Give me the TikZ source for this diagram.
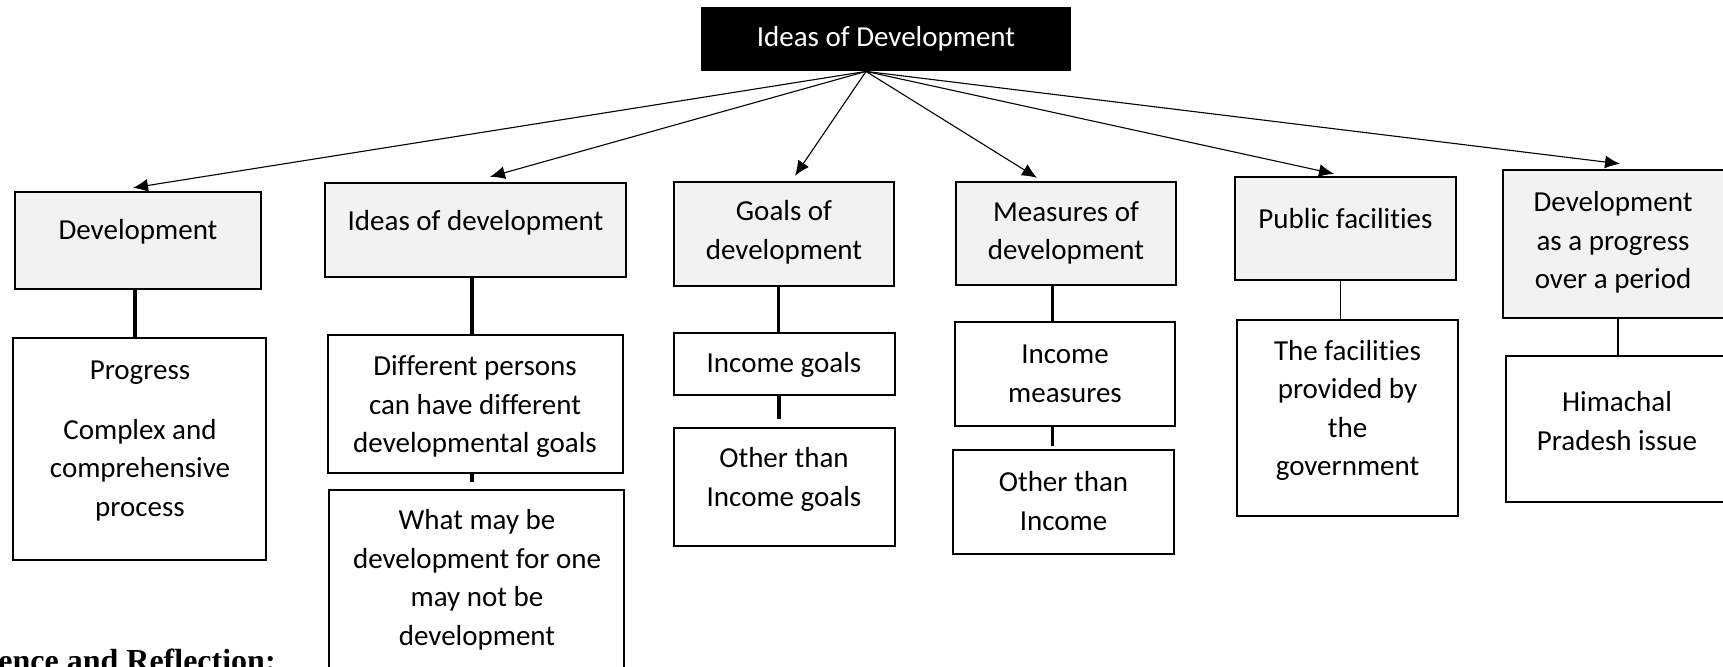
\documentclass[tikz,border=0pt]{standalone}
\usepackage{fontspec}
\setmainfont{Carlito}[Ligatures=NoCommon]
\newfontfamily\reflfont{Liberation Serif}
\usetikzlibrary{arrows.meta}
\definecolor{topicgray}{HTML}{F2F2F2}

\begin{document}
\begin{tikzpicture}[x=0.5pt, y=-0.5pt,
    every node/.style={font=\fontsize{14.5}{19.25}\selectfont},
    head/.style={fill=black, text=white, inner sep=0pt, minimum width=185pt, minimum height=32pt},
    topic/.style={draw, line width=1.2pt, fill=topicgray, inner sep=0pt},
    item/.style={draw, line width=1.2pt, fill=white, inner sep=0pt},
    txt/.style={align=center, inner sep=0pt, yshift=-1pt},
    link/.style={-{Latex[length=7.5pt,width=6.5pt]}, line width=0.55pt},
    stem/.style={line width=1.6pt},
    thinstem/.style={line width=0.85pt}]
    \useasboundingbox (0,0) rectangle (1723,666);

    % heading
    \node[head] (top) at (886,39) {Ideas of Development};
    \coordinate (fork) at ([xshift=-10pt]top.south);

    % first row
    \node[topic, minimum width=123pt, minimum height=48.5pt] (dev) at (138,240.5) {};
    \node[txt] (devtxt) at (138,230) {Development};
    \node[topic, minimum width=150.5pt, minimum height=47pt] (ideas) at (475.5,230) {};
    \node[txt] (ideastxt) at (475.5,221) {Ideas of development};
    \node[topic, minimum width=110pt, minimum height=52pt] (goals) at (784,234) {};
    \node[txt] (goalstxt) at (784,230.5) {Goals of\\development};
    \node[topic, minimum width=110pt, minimum height=51.5pt] (meas) at (1066,233.5) {};
    \node[txt] (meastxt) at (1066,231) {Measures of\\development};
    \node[topic, minimum width=110.5pt, minimum height=51.5pt] (pub) at (1345.5,228.5) {};
    \node[txt] (pubtxt) at (1345.5,217) {Public facilities};
    \node[topic, minimum width=112.5pt, minimum height=74pt] (period) at (1615.5,244) {};
    \node[txt] (periodtxt) at (1613,240.5) {Development\\as a progress\\over a period};

    % second row
    \node[item, minimum width=126.5pt, minimum height=111pt] (prog) at (139.5,449) {};
    \node[txt] (progtxt) at (140,439) {Progress\\[10.75pt]Complex and\\comprehensive\\process};
    \node[item, minimum width=147.5pt, minimum height=69pt] (persons) at (475.5,404) {};
    \node[txt] (personstxt) at (475,405) {Different persons\\can have different\\developmental goals};
    \node[item, minimum width=147.5pt, minimum height=95pt] (whatmay) at (476.5,585) {};
    \node[txt] (whatmaytxt) at (477,578) {What may be\\development for one\\may not be\\development};
    \node[item, minimum width=110.5pt, minimum height=31pt] (incg) at (784.5,364) {};
    \node[txt] (incgtxt) at (784,363) {Income goals};
    \node[item, minimum width=110.5pt, minimum height=59pt] (othg) at (784.5,487) {};
    \node[txt] (othgtxt) at (784,477.5) {Other than\\Income goals};
    \node[item, minimum width=110pt, minimum height=52pt] (incm) at (1065,374) {};
    \node[txt] (incmtxt) at (1065,372) {Income\\measures};
    \node[item, minimum width=110.5pt, minimum height=52pt] (othm) at (1063.5,502) {};
    \node[txt] (othmtxt) at (1063.5,499) {Other than\\Income};
    \node[item, minimum width=110.5pt, minimum height=98pt] (fac) at (1347.5,418) {};
    \node[txt] (factxt) at (1347.5,408.5) {The facilities\\provided by\\the\\government};
    \node[item, minimum width=111pt, minimum height=73pt] (him) at (1617,429) {};
    \node[txt] (himtxt) at (1617,419) {Himachal\\Pradesh issue};

    % arrows from the heading
    \foreach \dest/\dx/\dy in {dev/-2.5/1.5, ideas/7.25/2.5, goals/5.5/2.5, meas/-14.5/1.5, pub/-5.75/1, period/2.25/2.5}
        \draw[link] (fork) -- ([xshift=\dx pt, yshift=\dy pt]\dest.north);

    % stems
    \coordinate (devfoot) at ([xshift=-1.5pt]dev.south);
    \draw[stem] (devfoot) -- (devfoot |- prog.north);
    \coordinate (ideasfoot) at ([xshift=-1.75pt]ideas.south);
    \draw[stem] (ideasfoot) -- (ideasfoot |- persons.north);
    \coordinate (personsfoot) at ([xshift=-1.75pt]persons.south);
    \draw[stem, shorten >=3.5pt] (personsfoot) -- (personsfoot |- whatmay.north);
    \coordinate (goalsfoot) at ([xshift=-2.75pt]goals.south);
    \draw[stem] (goalsfoot) -- (goalsfoot |- incg.north);
    \coordinate (incgfoot) at ([xshift=-2.75pt]incg.south);
    \draw[stem, shorten >=4pt] (incgfoot) -- (incgfoot |- othg.north);
    \coordinate (measfoot) at ([xshift=-6.75pt]meas.south);
    \draw[stem] (measfoot) -- (measfoot |- incm.north);
    \coordinate (incmfoot) at ([xshift=-6.25pt]incm.south);
    \draw[stem, shorten >=1.5pt] (incmfoot) -- (incmfoot |- othm.north);
    \coordinate (pubfoot) at ([xshift=-2.5pt]pub.south);
    \draw[thinstem] (pubfoot) -- (pubfoot |- fac.north);
    \coordinate (periodfoot) at ([xshift=1.25pt, yshift=1pt]period.south);
    \draw[thinstem] (periodfoot) -- (periodfoot |- him.north);

    % cut-off caption
    \node[anchor=base west, inner sep=0pt, font=\reflfont\bfseries\fontsize{16}{19}\selectfont] (reflect) at (-2,671) {ence and Reflection:};
\end{tikzpicture}
\end{document}
